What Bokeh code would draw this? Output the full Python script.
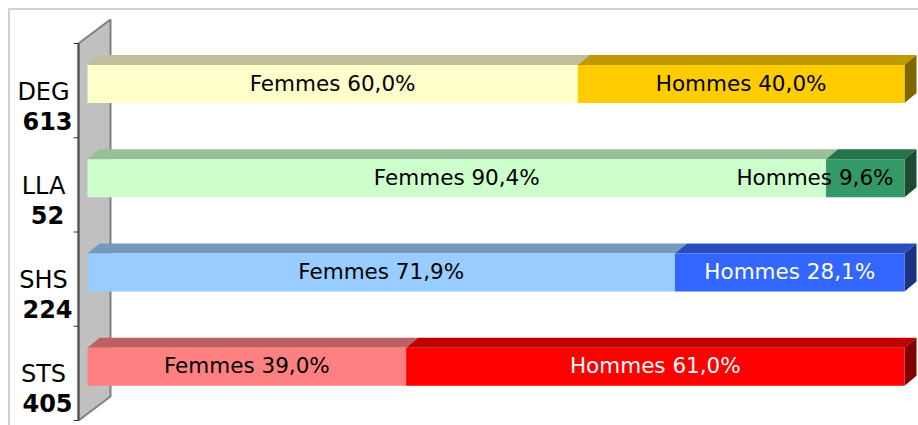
from bokeh.plotting import figure
from bokeh.models import Range1d, ColumnDataSource
from bokeh.core.properties import value
from bokeh.embed import file_html
from bokeh.resources import INLINE

# ---- data (top to bottom) ----
categories = ["DEG", "LLA", "SHS", "STS"]
totals = [613, 52, 224, 405]
femmes_pct = [60.0, 90.4, 71.9, 39.0]
hommes_pct = [40.0, 9.6, 28.1, 61.0]
femmes_colors = ["#FFFFCC", "#CCFFCC", "#99CCFF", "#FF8080"]
hommes_colors = ["#FFCC00", "#339966", "#3366FF", "#FF0000"]
femmes_text_colors = ["black", "black", "black", "black"]
hommes_text_colors = ["black", "black", "white", "white"]

# ---- layout (page pixels) ----
W, H = 918, 425
LEFT, TOP = 8, 8
FRAME_W, FRAME_H = W - LEFT, H - TOP
PX_PER_PCT = 8.17
PX_PER_CAT = 94.25
ZERO_PX = 87 - LEFT          # frame x of 0 %
BAND_BOTTOM_PX = 420 - TOP   # frame y (from top) of bottom of lowest band
FONT = "DejaVu Sans"

x0 = -ZERO_PX / PX_PER_PCT
x1 = (FRAME_W - ZERO_PX) / PX_PER_PCT
y0 = -0.5 - (FRAME_H - BAND_BOTTOM_PX) / PX_PER_CAT
y1 = -0.5 + BAND_BOTTOM_PX / PX_PER_CAT

def px_x(px):
    return px / PX_PER_PCT

def px_y(px):
    return px / PX_PER_CAT

def shade(hexcol, f):
    h = hexcol.lstrip("#")
    r, g, b = (int(h[i:i + 2], 16) for i in (0, 2, 4))
    return "#%02X%02X%02X" % (round(r * f), round(g * f), round(b * f))

n = len(categories)
ypos = [n - 1 - i for i in range(n)]

p = figure(width=W, height=H, output_backend="svg", toolbar_location=None,
           x_range=Range1d(x0, x1), y_range=Range1d(y0, y1),
           x_axis_location=None, y_axis_location=None,
           min_border_left=LEFT, min_border_top=TOP, min_border_right=0, min_border_bottom=0,
           border_fill_color="white", background_fill_color="white",
           outline_line_color=None)
p.grid.visible = False

# chart-area border (only top and left edges are inside the window)
p.line([x0, x0, x1], [y0, y1, y1], line_color="#A6A6A6", line_width=2)

# ---- 3D wall (axis) ----
wall_front = px_x(-9)
wall_dx, wall_dy = px_x(32), px_y(24)
lo, hi = -0.5, n - 0.5
p.patch([wall_front, wall_front + wall_dx, wall_front + wall_dx, wall_front],
        [hi, hi + wall_dy, lo + wall_dy, lo],
        fill_color="#C0C0C0", line_color="#808080", line_width=2)
p.line([wall_front, wall_front], [lo, hi], line_color="#505050", line_width=2)
bounds = [b - 0.5 for b in range(n + 1)]
p.segment(x0=[wall_front - px_x(5)] * len(bounds), y0=bounds,
          x1=[wall_front] * len(bounds), y1=bounds,
          line_color="#303030", line_width=1)

# ---- bars ----
bar_off = px_y(6.6)
half_h = px_y(19)
ddx, ddy = px_x(12), px_y(10)

lefts, rights, bottoms, tops, fills = [], [], [], [], []
top_xs, top_ys, top_fill = [], [], []
side_xs, side_ys, side_fill = [], [], []
for i in range(n):
    yc = ypos[i] + bar_off
    yb, yt = yc - half_h, yc + half_h
    segs = [(0.0, femmes_pct[i], femmes_colors[i]),
            (femmes_pct[i], femmes_pct[i] + hommes_pct[i], hommes_colors[i])]
    for a, b, c in segs:
        lefts.append(a); rights.append(b); bottoms.append(yb); tops.append(yt); fills.append(c)
        top_xs.append([a, b, b + ddx, a + ddx])
        top_ys.append([yt, yt, yt + ddy, yt + ddy])
        top_fill.append(shade(c, 0.75))
    end = femmes_pct[i] + hommes_pct[i]
    side_xs.append([end, end + ddx, end + ddx, end])
    side_ys.append([yb, yb + ddy, yt + ddy, yt])
    side_fill.append(shade(hommes_colors[i], 0.5))

p.patches(top_xs, top_ys, fill_color=top_fill, line_color=None)
p.patches(side_xs, side_ys, fill_color=side_fill, line_color=None)
p.quad(left=lefts, right=rights, bottom=bottoms, top=tops, fill_color=fills, line_color=None)

# ---- bar labels ----
def fmt(v):
    return ("%.1f" % v).replace(".", ",") + "%"

lab_x, lab_y, lab_t, lab_c, lab_a = [], [], [], [], []
for i in range(n):
    yc = ypos[i] + bar_off
    lab_x.append(femmes_pct[i] / 2); lab_y.append(yc)
    lab_t.append("Femmes " + fmt(femmes_pct[i])); lab_c.append(femmes_text_colors[i]); lab_a.append("center")
    end = femmes_pct[i] + hommes_pct[i]
    if hommes_pct[i] < 15:
        lab_x.append(end - px_x(11)); lab_a.append("right")
    else:
        lab_x.append(femmes_pct[i] + hommes_pct[i] / 2); lab_a.append("center")
    lab_y.append(yc)
    lab_t.append("Hommes " + fmt(hommes_pct[i])); lab_c.append(hommes_text_colors[i])

src = ColumnDataSource(dict(x=lab_x, y=lab_y, t=lab_t, c=lab_c, a=lab_a))
p.text(x="x", y="y", text="t", text_color="c", text_align="a", source=src,
       text_baseline="middle", text_font=value(FONT), text_font_size="21.5px", y_offset=-1)

# ---- category labels ----
p.text(x=[px_x(-44)] * n, y=ypos, text=categories, text_align="center", text_baseline="middle",
       text_font=value(FONT), text_font_size="24px", text_color="black", y_offset=1)
p.text(x=[px_x(-40)] * n, y=ypos, text=[str(t) for t in totals], text_align="center",
       text_baseline="middle", text_font=value(FONT), text_font_size="24px",
       text_font_style="bold", text_color="black", y_offset=30)

open("out.html", "w").write(file_html(p, INLINE))
